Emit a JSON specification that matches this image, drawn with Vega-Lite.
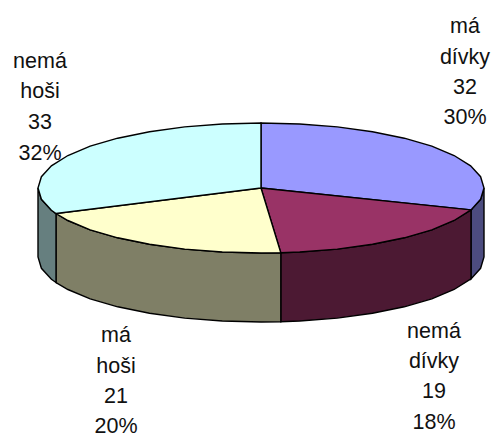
{"$schema":"https://vega.github.io/schema/vega-lite/v6.json","width":493,"height":441,"autosize":{"type":"fit","contains":"padding"},"padding":0,"background":"white","config":{"view":{"stroke":null}},
"datasets":{
"walls":[
{"part":"a","c":"#4C4C7F","o":1,"x":484,"y":188},{"part":"a","c":"#4C4C7F","o":2,"x":480.6,"y":199.3},{"part":"a","c":"#4C4C7F","o":3,"x":471,"y":209.9},{"part":"a","c":"#4C4C7F","o":4,"x":471,"y":278.9},{"part":"a","c":"#4C4C7F","o":5,"x":480.6,"y":268.3},{"part":"a","c":"#4C4C7F","o":6,"x":484,"y":257},{"part":"a","c":"#4C4C7F","o":7,"x":484,"y":188},
{"part":"b","c":"#4C1933","o":1,"x":471,"y":209.9},{"part":"b","c":"#4C1933","o":2,"x":454.1,"y":220.5},{"part":"b","c":"#4C1933","o":3,"x":431.8,"y":229.8},{"part":"b","c":"#4C1933","o":4,"x":404.3,"y":237.8},{"part":"b","c":"#4C1933","o":5,"x":372.5,"y":244.3},{"part":"b","c":"#4C1933","o":6,"x":337.3,"y":249.1},{"part":"b","c":"#4C1933","o":7,"x":299.7,"y":252},{"part":"b","c":"#4C1933","o":8,"x":280.8,"y":252.7},{"part":"b","c":"#4C1933","o":9,"x":280.8,"y":321.7},{"part":"b","c":"#4C1933","o":10,"x":299.7,"y":321},{"part":"b","c":"#4C1933","o":11,"x":337.3,"y":318.1},{"part":"b","c":"#4C1933","o":12,"x":372.5,"y":313.3},{"part":"b","c":"#4C1933","o":13,"x":404.3,"y":306.8},{"part":"b","c":"#4C1933","o":14,"x":431.8,"y":298.8},{"part":"b","c":"#4C1933","o":15,"x":454.1,"y":289.5},{"part":"b","c":"#4C1933","o":16,"x":471,"y":278.9},{"part":"b","c":"#4C1933","o":17,"x":471,"y":209.9},
{"part":"c","c":"#7F7F66","o":1,"x":280.8,"y":252.7},{"part":"c","c":"#7F7F66","o":2,"x":261,"y":253},{"part":"c","c":"#7F7F66","o":3,"x":222.3,"y":252},{"part":"c","c":"#7F7F66","o":4,"x":184.7,"y":249.1},{"part":"c","c":"#7F7F66","o":5,"x":149.5,"y":244.3},{"part":"c","c":"#7F7F66","o":6,"x":117.7,"y":237.8},{"part":"c","c":"#7F7F66","o":7,"x":90.2,"y":229.8},{"part":"c","c":"#7F7F66","o":8,"x":67.9,"y":220.5},{"part":"c","c":"#7F7F66","o":9,"x":56,"y":213.5},{"part":"c","c":"#7F7F66","o":10,"x":56,"y":282.5},{"part":"c","c":"#7F7F66","o":11,"x":67.9,"y":289.5},{"part":"c","c":"#7F7F66","o":12,"x":90.2,"y":298.8},{"part":"c","c":"#7F7F66","o":13,"x":117.7,"y":306.8},{"part":"c","c":"#7F7F66","o":14,"x":149.5,"y":313.3},{"part":"c","c":"#7F7F66","o":15,"x":184.7,"y":318.1},{"part":"c","c":"#7F7F66","o":16,"x":222.3,"y":321},{"part":"c","c":"#7F7F66","o":17,"x":261,"y":322},{"part":"c","c":"#7F7F66","o":18,"x":280.8,"y":321.7},{"part":"c","c":"#7F7F66","o":19,"x":280.8,"y":252.7},
{"part":"d","c":"#667F7F","o":1,"x":56,"y":213.5},{"part":"d","c":"#667F7F","o":2,"x":51.4,"y":210.2},{"part":"d","c":"#667F7F","o":3,"x":41.4,"y":199.3},{"part":"d","c":"#667F7F","o":4,"x":38,"y":188},{"part":"d","c":"#667F7F","o":5,"x":38,"y":257},{"part":"d","c":"#667F7F","o":6,"x":41.4,"y":268.3},{"part":"d","c":"#667F7F","o":7,"x":51.4,"y":279.2},{"part":"d","c":"#667F7F","o":8,"x":56,"y":282.5},{"part":"d","c":"#667F7F","o":9,"x":56,"y":213.5}
],
"tops":[
{"part":"a","c":"#9999FF","o":0,"x":261,"y":188},{"part":"a","c":"#9999FF","o":1,"x":261,"y":123},{"part":"a","c":"#9999FF","o":2,"x":299.7,"y":124},{"part":"a","c":"#9999FF","o":3,"x":337.3,"y":126.9},{"part":"a","c":"#9999FF","o":4,"x":372.5,"y":131.7},{"part":"a","c":"#9999FF","o":5,"x":404.3,"y":138.2},{"part":"a","c":"#9999FF","o":6,"x":431.8,"y":146.2},{"part":"a","c":"#9999FF","o":7,"x":454.1,"y":155.5},{"part":"a","c":"#9999FF","o":8,"x":470.6,"y":165.8},{"part":"a","c":"#9999FF","o":9,"x":480.6,"y":176.7},{"part":"a","c":"#9999FF","o":10,"x":484,"y":188},{"part":"a","c":"#9999FF","o":11,"x":480.6,"y":199.3},{"part":"a","c":"#9999FF","o":12,"x":471,"y":209.9},{"part":"a","c":"#9999FF","o":13,"x":261,"y":188},
{"part":"b","c":"#993366","o":0,"x":261,"y":188},{"part":"b","c":"#993366","o":1,"x":471,"y":209.9},{"part":"b","c":"#993366","o":2,"x":454.1,"y":220.5},{"part":"b","c":"#993366","o":3,"x":431.8,"y":229.8},{"part":"b","c":"#993366","o":4,"x":404.3,"y":237.8},{"part":"b","c":"#993366","o":5,"x":372.5,"y":244.3},{"part":"b","c":"#993366","o":6,"x":337.3,"y":249.1},{"part":"b","c":"#993366","o":7,"x":299.7,"y":252},{"part":"b","c":"#993366","o":8,"x":280.8,"y":252.7},{"part":"b","c":"#993366","o":9,"x":261,"y":188},
{"part":"c","c":"#FFFFCC","o":0,"x":261,"y":188},{"part":"c","c":"#FFFFCC","o":1,"x":280.8,"y":252.7},{"part":"c","c":"#FFFFCC","o":2,"x":261,"y":253},{"part":"c","c":"#FFFFCC","o":3,"x":222.3,"y":252},{"part":"c","c":"#FFFFCC","o":4,"x":184.7,"y":249.1},{"part":"c","c":"#FFFFCC","o":5,"x":149.5,"y":244.3},{"part":"c","c":"#FFFFCC","o":6,"x":117.7,"y":237.8},{"part":"c","c":"#FFFFCC","o":7,"x":90.2,"y":229.8},{"part":"c","c":"#FFFFCC","o":8,"x":67.9,"y":220.5},{"part":"c","c":"#FFFFCC","o":9,"x":56,"y":213.5},{"part":"c","c":"#FFFFCC","o":10,"x":261,"y":188},
{"part":"d","c":"#CCFFFF","o":0,"x":261,"y":188},{"part":"d","c":"#CCFFFF","o":1,"x":56,"y":213.5},{"part":"d","c":"#CCFFFF","o":2,"x":51.4,"y":210.2},{"part":"d","c":"#CCFFFF","o":3,"x":41.4,"y":199.3},{"part":"d","c":"#CCFFFF","o":4,"x":38,"y":188},{"part":"d","c":"#CCFFFF","o":5,"x":41.4,"y":176.7},{"part":"d","c":"#CCFFFF","o":6,"x":51.4,"y":165.8},{"part":"d","c":"#CCFFFF","o":7,"x":67.9,"y":155.5},{"part":"d","c":"#CCFFFF","o":8,"x":90.2,"y":146.2},{"part":"d","c":"#CCFFFF","o":9,"x":117.7,"y":138.2},{"part":"d","c":"#CCFFFF","o":10,"x":149.5,"y":131.7},{"part":"d","c":"#CCFFFF","o":11,"x":184.7,"y":126.9},{"part":"d","c":"#CCFFFF","o":12,"x":222.3,"y":124},{"part":"d","c":"#CCFFFF","o":13,"x":261,"y":123},{"part":"d","c":"#CCFFFF","o":14,"x":261,"y":188}
],
"labels":[
{"line":"má","x":465,"y":27},{"line":"dívky","x":465,"y":58},{"line":"32","x":465,"y":88},{"line":"30%","x":465,"y":118},
{"line":"nemá","x":434,"y":332},{"line":"dívky","x":434,"y":362},{"line":"19","x":434,"y":392},{"line":"18%","x":434,"y":423},
{"line":"má","x":116,"y":336},{"line":"hoši","x":116,"y":367},{"line":"21","x":116,"y":397},{"line":"20%","x":116,"y":427},
{"line":"nemá","x":40,"y":62},{"line":"hoši","x":40,"y":92},{"line":"33","x":40,"y":123},{"line":"32%","x":40,"y":154}
]},
"layer":[
{"data":{"name":"walls"},"mark":{"type":"line","filled":true,"stroke":"black","strokeWidth":1.4,"strokeJoin":"miter"},"encoding":{"x":{"field":"x","type":"quantitative","scale":{"domain":[0,493]},"axis":null},"y":{"field":"y","type":"quantitative","scale":{"domain":[441,0]},"axis":null},"order":{"field":"o"},"detail":{"field":"part"},"fill":{"field":"c","type":"nominal","scale":null}}},
{"data":{"name":"tops"},"mark":{"type":"line","filled":true,"stroke":"black","strokeWidth":1.4,"strokeJoin":"miter"},"encoding":{"x":{"field":"x","type":"quantitative","scale":{"domain":[0,493]},"axis":null},"y":{"field":"y","type":"quantitative","scale":{"domain":[441,0]},"axis":null},"order":{"field":"o"},"detail":{"field":"part"},"fill":{"field":"c","type":"nominal","scale":null}}},
{"data":{"name":"labels"},"mark":{"type":"text","font":"Liberation Sans","fontSize":21.5,"color":"#111111","align":"center","baseline":"middle"},"encoding":{"x":{"field":"x","type":"quantitative","scale":{"domain":[0,493]},"axis":null},"y":{"field":"y","type":"quantitative","scale":{"domain":[441,0]},"axis":null},"text":{"field":"line"}}}
]}
